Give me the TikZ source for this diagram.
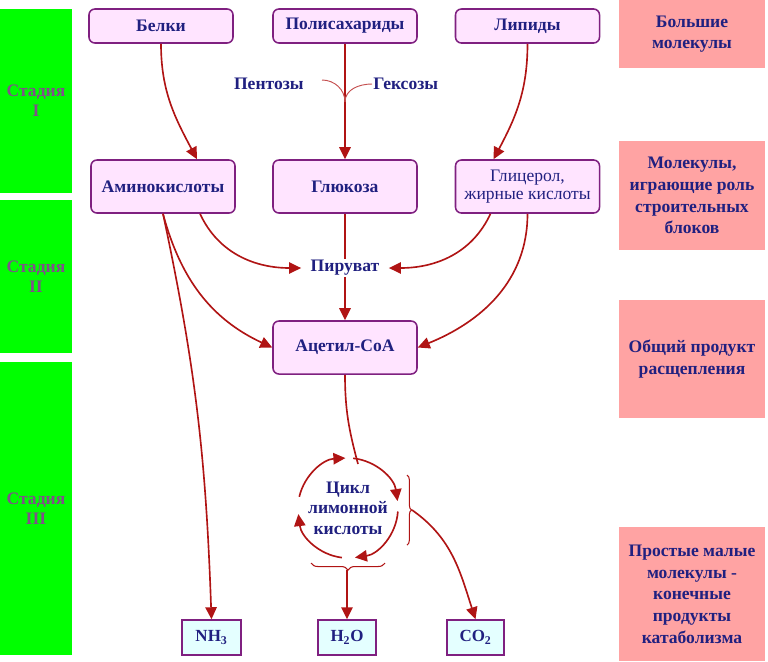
\documentclass[tikz,border=0pt]{standalone}
\usepackage{fontspec}
\setmainfont{Liberation Serif}
\usetikzlibrary{arrows.meta,calc,decorations.pathreplacing}
\definecolor{navy}{HTML}{202080}
\definecolor{flowred}{HTML}{B01414}
\definecolor{boxline}{HTML}{7F2080}
\definecolor{boxfill}{HTML}{FFE4FF}
\definecolor{prodfill}{HTML}{E4FFFF}
\definecolor{stagegreen}{HTML}{00FF00}
\definecolor{stagetext}{HTML}{80508A}
\definecolor{notepink}{HTML}{FFA3A3}

\begin{document}
\begin{tikzpicture}[
  x=0.03cm,y=0.03cm,
  >={Triangle[length=3.6mm,width=3.4mm]},
  font=\bfseries\fontsize{15}{17}\selectfont,
  mol/.style={rectangle,rounded corners=5pt,draw=boxline,line width=1.3pt,fill=boxfill,
    text=navy,minimum width=4.32cm,align=center,inner sep=2pt},
  prod/.style={rectangle,draw=boxline,line width=1.3pt,fill=prodfill,text=navy,
    minimum height=1.05cm,inner sep=1pt,font=\bfseries\fontsize{14.5}{16}\selectfont},
  stage/.style={rectangle,fill=stagegreen,minimum width=2.16cm,text=stagetext,align=center,
    font=\bfseries\fontsize{15}{17}\selectfont},
  note/.style={rectangle,fill=notepink,minimum width=4.38cm,text=navy,align=center,
    font=\bfseries\fontsize{15}{18.5}\selectfont},
  label/.style={text=navy,inner sep=1pt},
  flow/.style={->,draw=flowred,line width=1.4pt},
  side/.style={draw=flowred!75!white,line width=0.8pt},
  clamp/.style={draw=flowred,line width=0.9pt,decorate}
]
\useasboundingbox (0,0) rectangle (768,-661);
% stages on the left
\foreach \n/\y/\h/\lab in {1/101/184/I,2/276.5/153/II,3/508.5/293/III}{
  \node[stage,minimum height=\h*0.03cm] (st\n) at (36,-\y) {Стадия\\\lab};
}
% notes on the right
\foreach \n/\y/\h/\lab in {1/34/68/{Большие\\молекулы},
    2/195.5/109/{Молекулы,\\играющие роль\\строительных\\блоков},
    3/359/118/{Общий продукт\\расщепления},
    4/594/134/{Простые малые\\молекулы -\\конечные\\продукты\\катаболизма}}{
  \node[note,minimum height=\h*0.03cm] (nt\n) at (692,-\y) {\lab};
}
% molecules
\node[mol,minimum height=1.02cm] (belki) at (161,-26) {Белки};
\node[mol,minimum height=1.02cm] (poly) at (345,-26) {Полисахариды};
\node[mol,minimum height=1.02cm] (lip) at (527.5,-26) {Липиды};
\node[mol,minimum height=1.59cm] (amino) at (163,-186.5) {Аминокислоты};
\node[mol,minimum height=1.59cm] (gluc) at (345,-186.5) {Глюкоза};
\node[mol,minimum height=1.59cm,font=\mdseries\fontsize{15}{15.5}\selectfont] (glyc)
  at (527.5,-186.5) {Глицерол,\\жирные кислоты};
\node[mol,minimum height=1.59cm] (acet) at (345,-347.5) {Ацетил-CoA};
\node[label,inner xsep=8pt] (pyr) at (345,-268) {Пируват};
\node[label,anchor=east] (pent) at (305,-84) {Пентозы};
\node[label,anchor=west] (hex) at (372,-84) {Гексозы};
\node[label,align=center,font=\bfseries\fontsize{15}{17.5}\selectfont] (cyc) at (348,-508)
  {Цикл\\лимонной\\кислоты};
% end products
\node[prod,minimum width=1.77cm] (nh3) at (211.5,-637.5) {NH\textsubscript{3}};
\node[prod,minimum width=1.74cm] (h2o) at (347,-637.5) {H\textsubscript{2}O};
\node[prod,minimum width=1.71cm] (co2) at (475.5,-637.5) {CO\textsubscript{2}};
% stage I
\draw[flow] (belki.south) to[out=-90,in=118] ($(amino.north)+(34,0)$);
\draw[flow] (poly.south) -- (gluc.north);
\draw[flow] (lip.south) to[out=-90,in=62] ($(glyc.north)+(-34,0)$);
\coordinate (join) at (345,-102);
\coordinate (pentend) at (322,-80);
\draw[side] (pentend) to[out=0,in=90] (join);
\draw[side] (hex.west) to[out=180,in=90] (join);
% stage II
\draw[flow,-] (gluc.south) -- (pyr.north);
\draw[flow] (pyr.south) -- (acet.north);
\draw[flow] ($(amino.south)+(37,0)$) to[out=-65,in=180] (pyr.west);
\draw[flow] ($(glyc.south)+(-37,0)$) to[out=-115,in=0] (pyr.east);
\draw[flow] (amino.south) to[out=-75,in=155] (acet.west);
\draw[flow] (glyc.south) to[out=-90,in=22] (acet.east);
% stage III
\draw[flow] (amino.south) to[out=-78,in=92] (nh3.north);
\coordinate (cyctop) at (358,-464);
\draw[flow,-] (acet.south) to[out=-90,in=105] (cyctop);
\foreach \a/\b in {167/93,84/8,-4/-82,-97/-173}{
  \draw[flow] ($(cyc)+(\a:50)$) arc[start angle=\a,end angle=\b,radius=50];
}
\draw[clamp,decoration={brace,amplitude=4pt}] (407,-475) -- (407,-545);
\draw[clamp,decoration={brace,amplitude=6pt}] (385,-563) -- (311,-563);
\coordinate (brR) at (412,-510);
\coordinate (brB) at (347,-570);
\draw[flow] (brR) to[out=-35,in=108] (co2.north);
\draw[flow] (brB) -- (h2o.north);
\end{tikzpicture}
\end{document}
